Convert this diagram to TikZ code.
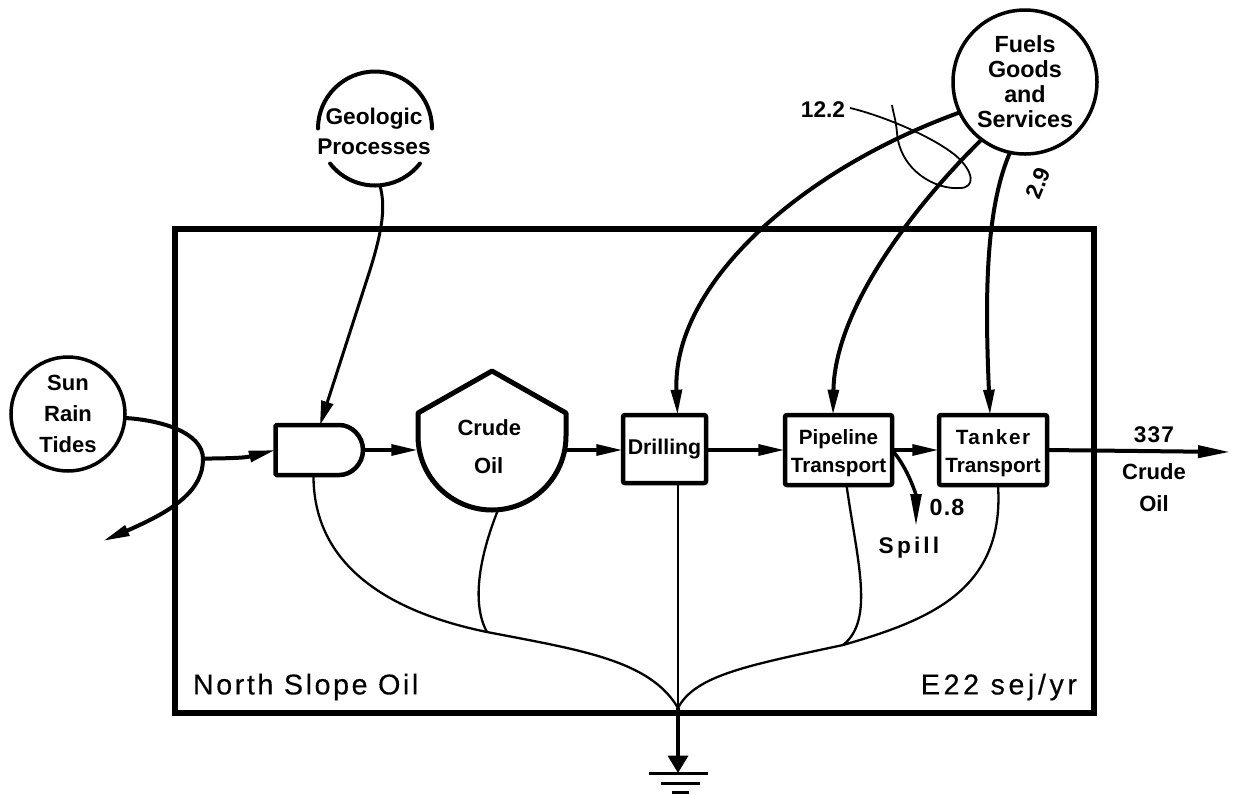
\documentclass[tikz,border=0pt]{standalone}
\usepackage{fontspec}
\setmainfont{Liberation Sans}
\newfontfamily\widefont[LetterSpace=9,FakeBold=0.3]{Liberation Sans}
\newfontfamily\unitsfont[LetterSpace=12.5,FakeBold=0.3]{Liberation Sans}
\usetikzlibrary{arrows.meta,calc}
\tikzset{
  px/.style={line width=#1*0.75pt},
  lab/.style={font=\bfseries\fontsize{17}{19}\selectfont,align=center,inner sep=0pt,outer sep=0pt},
  srcnode/.style={circle,draw,px=3.5,inner sep=0pt,outer sep=0pt,align=center},
  procbox/.style={rectangle,draw,px=4.5,rounded corners=1.5pt,inner sep=0pt,outer sep=0pt,align=center,
     font=\bfseries\fontsize{15.5}{21}\selectfont},
  flowline/.style={px=4,-{Triangle[length=20pt,width=8pt]}},
  inflow/.style={px=4,-{Triangle[length=19pt,width=8pt]}},
  sinkline/.style={px=2.3},
  noteline/.style={px=1.8},
  titletext/.style={font=\widefont\fontsize{21.5}{23}\selectfont,inner sep=0pt,outer sep=0pt},
}
\begin{document}
\begin{tikzpicture}[x=0.75pt,y=-0.75pt]
\useasboundingbox (0,0) rectangle (1233,794);
% frame
\node[rectangle,draw,px=6,minimum width=919*0.75pt,minimum height=484*0.75pt,inner sep=0pt,outer sep=0pt] (frame) at (634.5,471) {};
% sources
\node[srcnode,minimum size=114*0.75pt,font=\bfseries\fontsize{16.5}{23}\selectfont] (sun) at (68,414) {Sun\\Rain\\Tides};
\node[srcnode,minimum size=144*0.75pt,font=\bfseries\fontsize{17.5}{18.8}\selectfont] (fuels) at (1025,82) {Fuels\\Goods\\and\\Services};
\node[circle,minimum size=114*0.75pt,inner sep=0pt,outer sep=0pt] (geo) at (375,128.5) {};
\node[lab,font=\bfseries\fontsize{17}{23}\selectfont] (geotext) at (374,131.5) {Geologic\\Processes};
\draw[px=4,line cap=round] (geo.180) arc[start angle=180,end angle=0,radius=42.75pt];
\draw[px=4,line cap=round] (geo.218) arc[start angle=218,end angle=322,radius=42.75pt];
% interaction gate
\node[rectangle,minimum width=88*0.75pt,minimum height=50*0.75pt,inner sep=0pt,outer sep=0pt] (gate) at (319.5,450) {};
\draw[px=4.5,rounded corners=1pt] (gate.north west) -- (338,425) arc[start angle=90,end angle=-90,radius=18.75pt] -- (gate.south west) -- cycle;
% tank
\coordinate (tankapex) at (492,371);
\node[rectangle,minimum width=148*0.75pt,minimum height=126*0.75pt,inner sep=0pt,outer sep=0pt,align=center,font=\bfseries\fontsize{16.5}{28.5}\selectfont] (tank) at (492,447) {Crude\hspace*{4pt}\\Oil\hspace*{5pt}};
\draw[px=5,line join=round] (tankapex) -- ++(-74,42) -- ++(0,23) arc[start angle=180,end angle=360,radius=55.5pt] -- ++(0,-23) -- cycle;
% processes
\node[procbox,minimum width=83*0.75pt,minimum height=68*0.75pt] (drill) at (664.5,449) {\fontsize{16}{18}\selectfont\raisebox{-2.5pt}{Drilling}};
\node[procbox,minimum width=107*0.75pt,minimum height=70*0.75pt] (pipe) at (838.5,450) {\rule{0pt}{16pt}Pipeline\\Transport};
\node[procbox,minimum width=108*0.75pt,minimum height=70*0.75pt] (tanker) at (993,450) {\rule{0pt}{16pt}\addfontfeature{LetterSpace=8}Tanker\\Transport};
% outside points
\coordinate (sink) at (678,708);
\coordinate (gnd) at (678,773);
\coordinate (loop) at (203,459);
\coordinate (lost) at (103,541);
\coordinate (spillend) at (916,526);
\coordinate (outend) at (1230,452);
% main flow
\draw[px=4,line join=round] (sun.356) .. controls (160,420) and (203,432) .. (loop);
\draw[flowline] (loop) .. controls (203,490) and (175,510) .. (lost);
\draw[flowline] (loop) .. controls (205,458) and (240,459) .. (gate.west);
\draw[flowline] (gate.east) -- (tank.west|-gate.east);
\draw[flowline] (tank.east|-gate.east) -- (drill.west|-gate.east);
\draw[flowline] (drill.east|-gate.east) -- (pipe.west|-gate.east);
\draw[flowline] (pipe.east|-gate.east) -- (tanker.west|-gate.east);
\draw[px=4,-{Triangle[length=24pt,width=9pt]}] (tanker.east|-gate.east) -- (outend);
\draw[px=3.5,-{Triangle[length=24pt,width=8pt]}] (pipe.east|-gate.east) .. controls (908,468) and (916,495) .. (spillend);
% inflows
\draw[px=3,-{Triangle[length=18pt,width=9pt]}] (geo.south) ++(5,0) .. controls (385,205) and (384,225) .. (370,270) -- (320,425);
\draw[inflow] (fuels.205) .. controls (800,170) and (672,285) .. ($(drill.north)+(13,0)$);
\draw[inflow] (fuels.233) .. controls (930,190) and (835,300) .. ($(pipe.north)+(-5.5,0)$);
\draw[inflow] (fuels.258) .. controls (985,210) and (985,300) .. ($(tanker.north)+(-3,0)$);
% sinks
\draw[sinkline] ($(gate.south)+(-6,0)$) .. controls (313,560) and (380,610) .. (487,632) .. controls (580,650) and (650,660) .. (sink);
\draw[sinkline] ($(tank.south)+(6,0)$) .. controls (478,560) and (472,605) .. (487,632);
\draw[sinkline] (sink|-drill.south) -- (sink);
\draw[sinkline] ($(pipe.south)+(8,0)$) .. controls (857,560) and (875,620) .. (843,645);
\draw[sinkline] ($(tanker.south)+(5,0)$) .. controls (1005,590) and (930,620) .. (843,645) .. controls (750,665) and (695,675) .. (sink);
% ground
\draw[px=3.5,-{Triangle[length=13pt,width=15pt]}] (sink) -- (gnd);
\draw[px=3] (gnd) ++(-29,0) -- ++(59,0);
\draw[px=3] (gnd) ++(-17,10) -- ++(39,0);
\draw[px=3] (gnd) ++(-6,19) -- ++(17,0);
% note
\node[lab] (v122) at (823,110) {12.2};
\draw[noteline] (v122.east) ++(5,-2) .. controls (880,115) and (930,135) .. (955,155) .. controls (975,172) and (975,188) .. (960,188) .. controls (935,190) and (900,170) .. (897,133) .. controls (896,120) and (893,112) .. (892,105);
\node[lab,rotate=68] (v29) at (1038,183) {2.9};
\node[lab,font=\bfseries\fontsize{17}{19}\selectfont] (v337) at (1154,435) {\addfontfeature{LetterSpace=5}337};
\node[lab,font=\bfseries\fontsize{16.5}{24}\selectfont] (crudeout) at (1154,488) {Crude\\Oil};
\node[lab,font=\bfseries\fontsize{17.5}{19}\selectfont] (v08) at (947,507) {\addfontfeature{LetterSpace=5}0.8};
\node[lab] (spill) at (909,548) {\addfontfeature{LetterSpace=14}Spill};
\node[titletext,anchor=west] (north) at (193,687) {North Slope Oil};
\node[titletext,font=\unitsfont\fontsize{21.5}{23}\selectfont,anchor=east] (units) at (1077,687) {E22 sej/yr};
\end{tikzpicture}
\end{document}
